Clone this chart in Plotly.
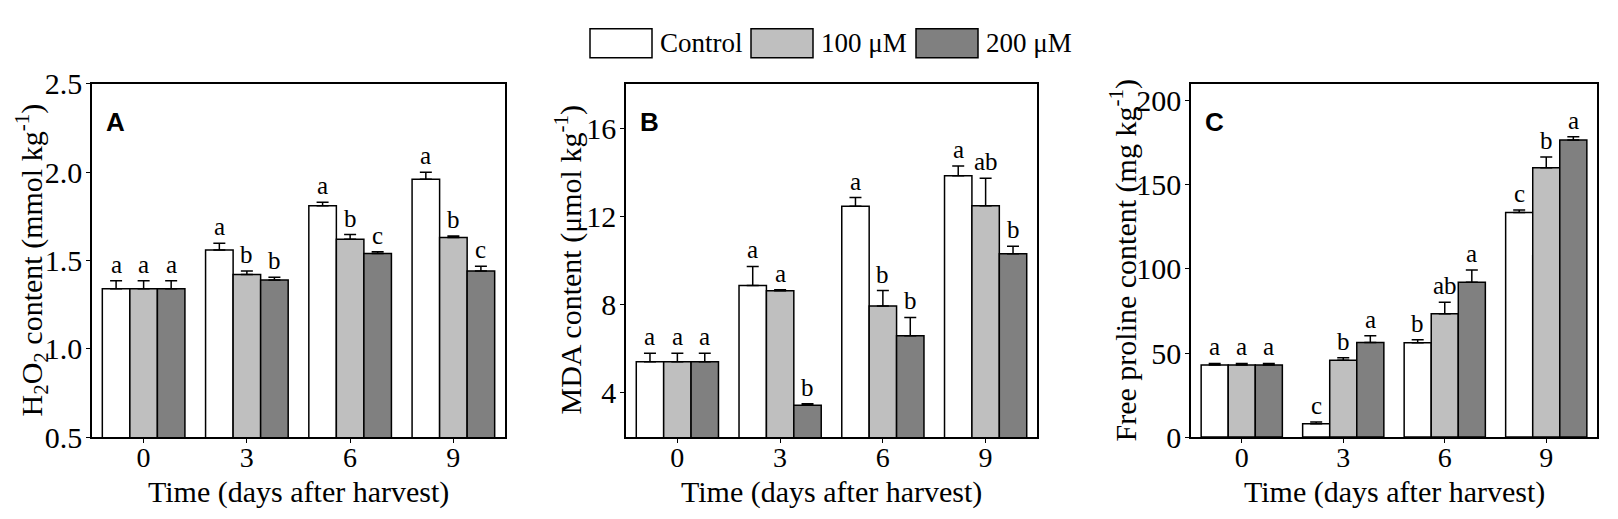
import plotly.graph_objects as go

# ---- data ----
days = ["0", "3", "6", "9"]
treatments = ["Control", "100 μM", "200 μM"]
colors = ["#ffffff", "#bfbfbf", "#808080"]

h2o2_mean = [
    [1.34, 1.56, 1.81, 1.96],   # Control
    [1.34, 1.42, 1.62, 1.63],   # 100 uM
    [1.34, 1.39, 1.54, 1.44],   # 200 uM
]
h2o2_err = [
    [0.045, 0.037, 0.02, 0.04],
    [0.045, 0.02, 0.027, 0.008],
    [0.045, 0.015, 0.01, 0.028],
]
h2o2_letters = [
    ["a", "a", "a", "a"],
    ["a", "b", "b", "b"],
    ["a", "b", "c", "c"],
]

mda_mean = [
    [5.41, 8.87, 12.46, 13.84],
    [5.41, 8.63, 7.94, 12.48],
    [5.41, 3.44, 6.59, 10.30],
]
mda_err = [
    [0.39, 0.86, 0.39, 0.44],
    [0.39, 0.05, 0.70, 1.24],
    [0.39, 0.07, 0.83, 0.34],
]
mda_letters = [
    ["a", "a", "a", "a"],
    ["a", "a", "b", "ab"],
    ["a", "b", "b", "b"],
]

proline_mean = [
    [42.8, 8.0, 56.1, 133.5],
    [42.8, 45.7, 73.3, 160.2],
    [42.8, 56.3, 92.0, 176.7],
]
proline_err = [
    [1.0, 1.0, 1.8, 1.5],
    [1.0, 1.5, 6.8, 6.3],
    [1.0, 3.9, 7.4, 1.8],
]
proline_letters = [
    ["a", "c", "b", "c"],
    ["a", "b", "ab", "b"],
    ["a", "a", "a", "a"],
]

panels = [
    dict(tag="A", mean=h2o2_mean, err=h2o2_err, letters=h2o2_letters,
         yrange=[0.5, 2.5], ticks=[0.5, 1.0, 1.5, 2.0, 2.5], fmt=".1f",
         title="H<sub>2</sub>O<sub>2</sub> content (mmol kg<sup>-1</sup>)",
         domain=[84 / 1618, 497 / 1618], title_x=24 / 1618),
    dict(tag="B", mean=mda_mean, err=mda_err, letters=mda_letters,
         yrange=[2, 18], ticks=[4, 8, 12, 16], fmt="d",
         title="MDA content (μmol kg<sup>-1</sup>)",
         domain=[618 / 1618, 1029 / 1618], title_x=561 / 1618),
    dict(tag="C", mean=proline_mean, err=proline_err, letters=proline_letters,
         yrange=[0, 210], ticks=[0, 50, 100, 150, 200], fmt="d",
         title="Free proline content (mg kg<sup>-1</sup>)",
         domain=[1183 / 1618, 1589 / 1618], title_x=1116 / 1618),
]

SERIF = "Liberation Serif, Times New Roman, serif"
W, H = 1618, 519
ydom = [1 - 441 / H, 1 - 63 / H]
bar_w = 0.8 / len(treatments)
xpos = list(range(len(days)))

fig = go.Figure()
annotations = []
shapes = []

for p_i, p in enumerate(panels):
    sfx = "" if p_i == 0 else str(p_i + 1)
    for t_i, name in enumerate(treatments):
        fig.add_trace(go.Bar(
            x=xpos,
            y=p["mean"][t_i],
            name=name,
            showlegend=False,
            xaxis="x" + sfx,
            yaxis="y" + sfx,
            offsetgroup=str(t_i),
            marker=dict(color=colors[t_i], line=dict(color="black", width=1.5)),
            error_y=dict(type="data", symmetric=False, array=p["err"][t_i],
                         arrayminus=[0] * len(days), color="black",
                         thickness=1.5, width=6),
        ))
        # significance letters above the error bars
        off = (t_i - (len(treatments) - 1) / 2) * bar_w
        for d_i in xpos:
            annotations.append(dict(
                x=d_i + off, y=p["mean"][t_i][d_i] + p["err"][t_i][d_i],
                xref="x" + sfx, yref="y" + sfx,
                text=p["letters"][t_i][d_i], showarrow=False,
                yanchor="bottom", yshift=1,
                font=dict(family=SERIF, size=25, color="black"),
            ))

    axis_common = dict(showline=True, linecolor="black", linewidth=1.5,
                       mirror=True, ticks="outside", ticklen=4, tickwidth=1.2,
                       tickcolor="black", showgrid=False, zeroline=False)
    fig.update_layout(**{
        "xaxis" + sfx: dict(axis_common, domain=p["domain"], anchor="y" + sfx,
                           range=[-0.5, len(days) - 0.5], tickvals=xpos,
                           ticktext=days, ticklabelstandoff=-9,
                           tickfont=dict(family=SERIF, size=28, color="black")),
        "yaxis" + sfx: dict(axis_common, domain=ydom, anchor="x" + sfx,
                           range=p["yrange"], tickvals=p["ticks"],
                           tickformat=p["fmt"], ticklabelstandoff=-2,
                           tickfont=dict(family=SERIF, size=30, color="black")),
    })

    # y title
    annotations.append(dict(
        x=p["title_x"], y=(ydom[0] + ydom[1]) / 2, xref="paper", yref="paper",
        text=p["title"], textangle=-90, showarrow=False,
        xanchor="center", yanchor="middle",
        font=dict(family=SERIF, size=30, color="black"),
    ))
    # x title
    annotations.append(dict(
        x=(p["domain"][0] + p["domain"][1]) / 2, y=1 - 500 / H,
        xref="paper", yref="paper", text="Time (days after harvest)",
        showarrow=False, xanchor="center", yanchor="middle",
        font=dict(family=SERIF, size=30, color="black"),
    ))
    # panel tag
    annotations.append(dict(
        x=0.03, y=0.94, xref="x" + sfx + " domain", yref="y" + sfx + " domain",
        text="<b>%s</b>" % p["tag"], showarrow=False,
        xanchor="left", yanchor="top",
        font=dict(family="Liberation Sans, Arial, sans-serif", size=26,
                  color="black"),
    ))

# custom legend at the top
legend_x = [582, 743, 908]
box_w = 62
for t_i, name in enumerate(treatments):
    x0 = legend_x[t_i]
    shapes.append(dict(type="rect", xref="paper", yref="paper",
                       x0=x0 / W, x1=(x0 + box_w) / W,
                       y0=1 - 35 / H, y1=1 - 4 / H,
                       fillcolor=colors[t_i], line=dict(color="black", width=1.5)))
    annotations.append(dict(
        x=(x0 + box_w + 6) / W, y=1 - 19.5 / H, xref="paper", yref="paper",
        text=name, showarrow=False, xanchor="left", yanchor="middle",
        font=dict(family=SERIF, size=27, color="black"),
    ))

fig.update_layout(
    width=W, height=H,
    margin=dict(l=0, r=0, t=0, b=0),
    paper_bgcolor="white", plot_bgcolor="white",
    barmode="group", bargap=0.2, bargroupgap=0,
    annotations=annotations, shapes=shapes,
    showlegend=False,
)

fig.write_html("out.html")
